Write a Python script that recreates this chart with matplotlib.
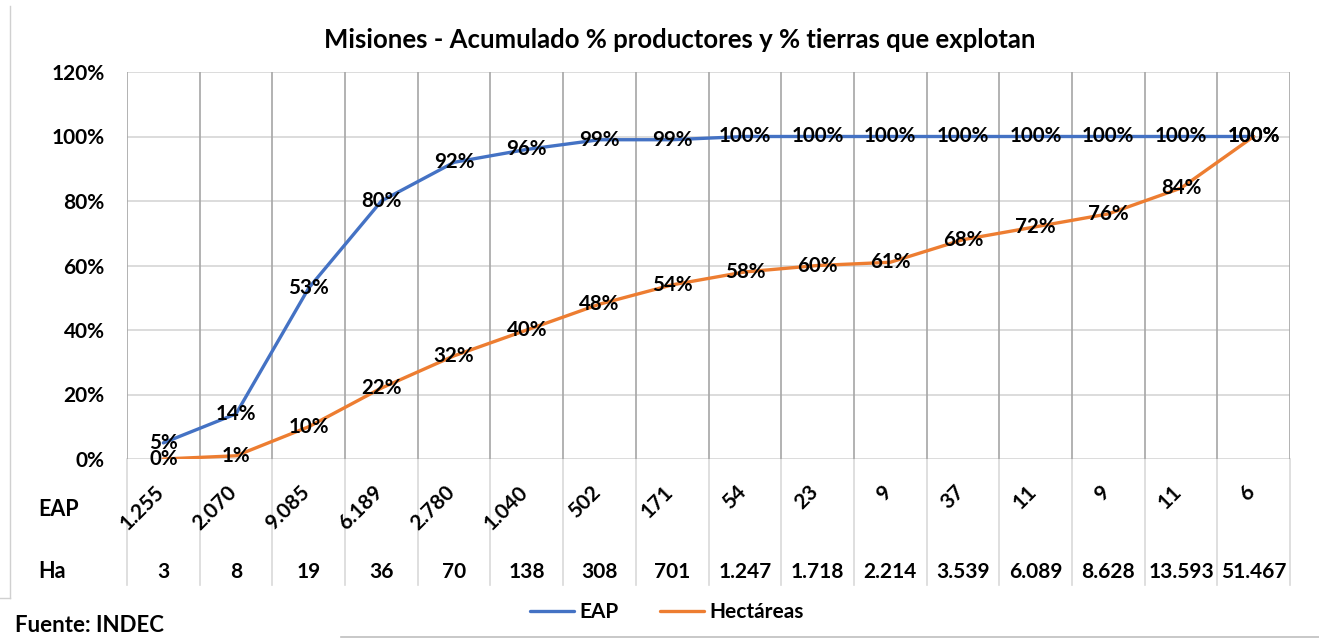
import matplotlib
matplotlib.use("Agg")
import matplotlib.pyplot as plt
from matplotlib.transforms import blended_transform_factory, offset_copy
from matplotlib.lines import Line2D

plt.rcParams['font.family'] = ['Lato', 'DejaVu Sans']

title = "Misiones - Acumulado % productores y % tierras que explotan"
eap_counts = ["1.255", "2.070", "9.085", "6.189", "2.780", "1.040", "502", "171",
              "54", "23", "9", "37", "11", "9", "11", "6"]
ha_labels = ["3", "8", "19", "36", "70", "138", "308", "701", "1.247", "1.718",
             "2.214", "3.539", "6.089", "8.628", "13.593", "51.467"]
eap_pct = [5, 14, 53, 80, 92, 96, 99, 99, 100, 100, 100, 100, 100, 100, 100, 100]
ha_pct = [0, 1, 10, 22, 32, 40, 48, 54, 58, 60, 61, 68, 72, 76, 84, 100]
yticks = [0, 20, 40, 60, 80, 100, 120]

W, H = 1319, 639
fig = plt.figure(figsize=(W / 100, H / 100), dpi=100)
fig.patch.set_facecolor('white')

def fy(py):
    return 1 - py / H

def fx(px):
    return px / W

ax = fig.add_axes([fx(127), fy(459), fx(1290) - fx(127), fy(72) - fy(459)])
n = len(eap_pct)
xs = [i + 0.5 for i in range(n)]
ax.set_xlim(0, n)
ax.set_ylim(0, 120)
for s in ax.spines.values():
    s.set_visible(False)

# gridlines
for yv in yticks:
    ax.axhline(yv, color='#d9d9d9', lw=1.3, zorder=1)
for k in range(n + 1):
    ax.axvline(k, color='#a6a6a6', lw=1.2, zorder=1)

ax.set_xticks([])
ax.set_yticks(yticks)
ax.set_yticklabels([f"{v}%" for v in yticks], fontsize=15, fontweight='bold')
ax.tick_params(axis='y', length=0, pad=16)

ax.plot(xs, eap_pct, color='#4472C4', lw=2.4, label='EAP', zorder=3, solid_capstyle='round')
ax.plot(xs, ha_pct, color='#ED7D31', lw=2.4, label='Hectáreas', zorder=3, solid_capstyle='round')

for x, v in zip(xs, eap_pct):
    ax.text(x, v, f"{v}%", ha='center', va='center', fontsize=14.8, fontweight='bold', zorder=5)
for x, v in zip(xs, ha_pct):
    ax.text(x, v, f"{v}%", ha='center', va='center', fontsize=14.8, fontweight='bold', zorder=5)

# table area below axis
tr = blended_transform_factory(ax.transData, fig.transFigure)
for k in range(n + 1):
    ax.add_line(Line2D([k, k], [fy(459), fy(585)], transform=tr, color='#d9d9d9',
                       lw=1.2, clip_on=False, zorder=0.5))
tr_shift = offset_copy(tr, fig=fig, x=-2, y=0, units='dots')
for x, lab in zip(xs, eap_counts):
    ax.text(x, fy(489), lab, transform=tr_shift, ha='right', va='center', rotation=45,
            rotation_mode='anchor', fontsize=15, fontweight='bold', clip_on=False, zorder=5)
for x, lab in zip(xs, ha_labels):
    ax.text(x, fy(572), lab, transform=tr, ha='center', va='center',
            fontsize=15, fontweight='bold', clip_on=False, zorder=5)

fig.text(fx(38), fy(510), "EAP", ha='left', va='center', fontsize=15.5, fontweight='bold')
fig.text(fx(38), fy(572), "Ha", ha='left', va='center', fontsize=15.5, fontweight='bold')

fig.text(fx(680), fy(40), title, ha='center', va='center', fontsize=18.5, fontweight='bold')

# chart border fragments
fig.add_artist(Line2D([fx(10), fx(10)], [fy(6), fy(598)], color='#d0d0d0', lw=1.0))
fig.add_artist(Line2D([fx(0), fx(10)], [fy(598), fy(598)], color='#d0d0d0', lw=1.0))
fig.add_artist(Line2D([fx(341), fx(1319)], [fy(637), fy(637)], color='#bfbfbf', lw=1.2))

leg = fig.legend(loc='center', bbox_to_anchor=(fx(667), fy(612)), ncol=2, frameon=False,
                 prop={'size': 15, 'weight': 'bold'}, handlelength=2.1, handletextpad=0.25,
                 columnspacing=2.0)

fig.text(fx(15), fy(626), "Fuente: INDEC", ha='left', va='center', fontsize=16, fontweight='bold')

fig.savefig("out.png", dpi=100, facecolor='white')
